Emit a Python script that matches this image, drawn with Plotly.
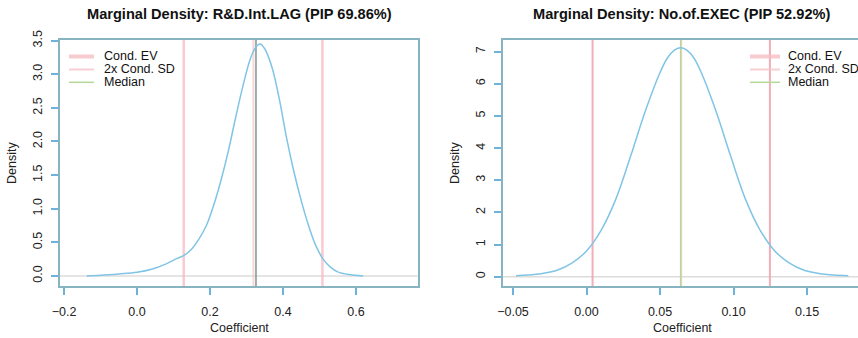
import plotly.graph_objects as go

# ---------------- data ----------------
left_title = "Marginal Density: R&D.Int.LAG (PIP 69.86%)"
right_title = "Marginal Density: No.of.EXEC (PIP 52.92%)"
legend_labels = ["Cond. EV", "2x Cond. SD", "Median"]

left_x = [-0.138, -0.10, -0.05, 0.0, 0.04, 0.08, 0.11, 0.13, 0.15, 0.17, 0.19, 0.21, 0.23,
          0.25, 0.27, 0.29, 0.31, 0.325, 0.337, 0.35, 0.37, 0.39, 0.41, 0.43, 0.45, 0.47,
          0.49, 0.51, 0.53, 0.55, 0.58, 0.62]
left_y = [0.0, 0.01, 0.03, 0.055, 0.10, 0.18, 0.26, 0.31, 0.40, 0.55, 0.75, 1.05, 1.42,
          1.85, 2.35, 2.82, 3.22, 3.40, 3.45, 3.38, 3.10, 2.63, 2.05, 1.55, 1.12, 0.75,
          0.45, 0.25, 0.13, 0.06, 0.02, 0.0]
left_ev = 0.319
left_sd_bounds = [0.128, 0.508]
left_median = 0.326

right_x = [-0.048, -0.04, -0.03, -0.02, -0.01, 0.0, 0.01, 0.02, 0.03, 0.04, 0.05, 0.055,
           0.06, 0.064, 0.068, 0.073, 0.078, 0.088, 0.098, 0.108, 0.118, 0.128, 0.138,
           0.148, 0.158, 0.168, 0.178]
right_y = [0.03, 0.05, 0.10, 0.20, 0.42, 0.80, 1.45, 2.42, 3.75, 5.15, 6.35, 6.80, 7.05,
           7.12, 7.05, 6.80, 6.35, 5.15, 3.75, 2.42, 1.45, 0.80, 0.42, 0.20, 0.10, 0.05, 0.03]
right_ev = 0.0644
right_sd_bounds = [0.0041, 0.1247]
right_median = 0.0640

left_xticks = [-0.2, 0.0, 0.2, 0.4, 0.6]
left_xticktext = ["\u22120.2", "0.0", "0.2", "0.4", "0.6"]
left_yticks = [0, 0.5, 1, 1.5, 2, 2.5, 3, 3.5]
left_yticktext = ["0.0", "0.5", "1.0", "1.5", "2.0", "2.5", "3.0", "3.5"]
right_xticks = [-0.05, 0.0, 0.05, 0.10, 0.15]
right_xticktext = ["\u22120.05", "0.00", "0.05", "0.10", "0.15"]
right_yticks = [0, 1, 2, 3, 4, 5, 6, 7]
right_yticktext = ["0", "1", "2", "3", "4", "5", "6", "7"]

# ---------------- style ----------------
W, H = 858, 338
TOP, BOT = 40, 286
FONT = "Liberation Sans, Arial, Helvetica, sans-serif"
BOX = "#88b4c2"
TICK = "#6cb2da"
CURVE = "#80c4e6"
EV_COL = "rgba(246,196,200,0.7)"
SD_COL_L = "rgba(246,180,188,0.7)"
SD_COL_R = "rgba(240,160,172,0.85)"
MED_LEFT = "#7e9690"
MED_RIGHT = "#b4d898"
ZERO_COL = "#dcdcdc"


def px(x):
    return x / W


def py(y):
    return (BOT - y) / (BOT - TOP)


fig = go.Figure()
fig.add_trace(go.Scatter(x=left_x, y=left_y, mode="lines", line=dict(color=CURVE, width=1.5, shape="spline"),
                         xaxis="x", yaxis="y", showlegend=False, hoverinfo="skip"))
fig.add_trace(go.Scatter(x=right_x, y=right_y, mode="lines", line=dict(color=CURVE, width=1.5, shape="spline"),
                         xaxis="x2", yaxis="y2", showlegend=False, hoverinfo="skip"))

shapes = []


def vline(xv, xref, yref, color, width):
    shapes.append(dict(type="line", xref=xref, yref=yref + " domain", x0=xv, x1=xv, y0=0, y1=1,
                       line=dict(color=color, width=width), layer="below"))


def hline(yv, xref, yref, color, width):
    shapes.append(dict(type="line", xref=xref + " domain", yref=yref, x0=0, x1=1, y0=yv, y1=yv,
                       line=dict(color=color, width=width), layer="below"))


hline(0, "x", "y", ZERO_COL, 1.5)
hline(0, "x2", "y2", ZERO_COL, 1.5)
for b in left_sd_bounds:
    vline(b, "x", "y", SD_COL_L, 2.5)
vline(left_ev, "x", "y", EV_COL, 2)
vline(left_median, "x", "y", MED_LEFT, 1.5)
for b in right_sd_bounds:
    vline(b, "x2", "y2", SD_COL_R, 2)
vline(right_ev, "x2", "y2", EV_COL, 2)
vline(right_median, "x2", "y2", MED_RIGHT, 1.5)

annotations = []
legend_cols = ["rgba(246,190,196,0.8)", "rgba(246,196,200,0.8)", MED_RIGHT]
legend_widths = [4, 2, 1.5]
legend_rows = [56.5, 69.5, 82.3]
for (sx0, sx1, tx, bx0, bx1) in [(69, 94, 102, 97, 177), (750, 780, 786, 783, 858)]:
    shapes.append(dict(type="rect", xref="paper", yref="paper", x0=px(bx0), x1=px(bx1),
                       y0=py(90), y1=py(48), fillcolor="white", line=dict(width=0), layer="above"))
    for lab, col, lw, ry in zip(legend_labels, legend_cols, legend_widths, legend_rows):
        shapes.append(dict(type="line", xref="paper", yref="paper", x0=px(sx0), x1=px(sx1),
                           y0=py(ry), y1=py(ry), line=dict(color=col, width=lw), layer="above"))
        annotations.append(dict(text=lab, xref="paper", yref="paper", x=px(tx), y=py(ry),
                                xanchor="left", yanchor="middle", showarrow=False,
                                font=dict(family=FONT, size=12.5, color="#111")))

for title, cx in [(left_title, 239), (right_title, 681)]:
    annotations.append(dict(text="<b>" + title + "</b>", xref="paper", yref="paper", x=px(cx), y=py(14),
                            xanchor="center", yanchor="middle", showarrow=False,
                            font=dict(family=FONT, size=14.6, color="#111")))
for cx in [239, 682]:
    annotations.append(dict(text="Coefficient", xref="paper", yref="paper", x=px(cx), y=py(328),
                            xanchor="center", yanchor="middle", showarrow=False,
                            font=dict(family=FONT, size=12.5, color="#222")))
for cx in [12, 455]:
    annotations.append(dict(text="Density", xref="paper", yref="paper", x=px(cx), y=py(163),
                            xanchor="center", yanchor="middle", showarrow=False, textangle=-90,
                            font=dict(family=FONT, size=12.5, color="#222")))

axis_common = dict(showgrid=False, zeroline=False, showline=True, linecolor=BOX, linewidth=2,
                   ticks="outside", ticklen=7, tickcolor=TICK, tickwidth=1.5,
                   tickfont=dict(family=FONT, size=12.5, color="#222"), automargin=False)

fig.update_layout(
    width=W, height=H, margin=dict(l=0, r=0, t=TOP, b=H - BOT),
    paper_bgcolor="white", plot_bgcolor="white", showlegend=False,
    xaxis=dict(domain=[px(60), px(418)], range=[-0.211, 0.770], tickvals=left_xticks,
               ticktext=left_xticktext, anchor="y", mirror=True, ticklabelstandoff=6, **axis_common),
    yaxis=dict(domain=[0, 1], range=[-0.15, 3.51], tickvals=left_yticks, ticktext=left_yticktext,
               anchor="x", mirror=True, tickangle=-90, ticklabelstandoff=4, **axis_common),
    xaxis2=dict(domain=[px(503), 1.0], range=[-0.0568, 0.1846], tickvals=right_xticks,
                ticktext=right_xticktext, anchor="y2", mirror=True, ticklabelstandoff=6, **axis_common),
    yaxis2=dict(domain=[0, 1], range=[-0.29, 7.36], tickvals=right_yticks, ticktext=right_yticktext,
                anchor="x2", mirror=False, tickangle=-90, ticklabelstandoff=4, **axis_common),
    shapes=shapes, annotations=annotations,
)

fig.write_html("out.html")
